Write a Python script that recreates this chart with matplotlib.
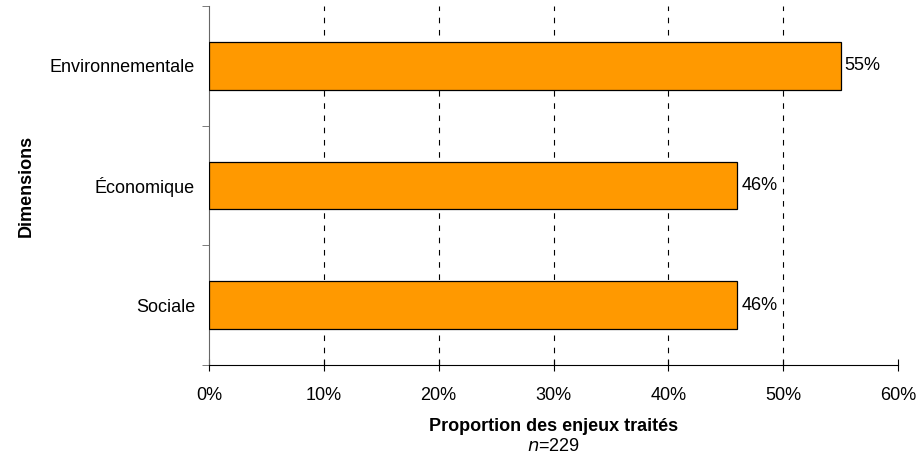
import numpy as np
import matplotlib.pyplot as plt
from matplotlib.ticker import FixedLocator

plt.rcParams['font.family'] = ['Liberation Sans', 'DejaVu Sans']

categories = ['Environnementale', 'Économique', 'Sociale']
values = [55, 46, 46]
xticks = [0, 10, 20, 30, 40, 50, 60]

fig = plt.figure(figsize=(9.19, 4.62), dpi=100)
ax = fig.add_axes([0.2274, 0.2100, 0.7498, 0.7770])

y = np.arange(len(categories))
ax.barh(y, values, height=0.4, color='#ff9900', edgecolor='black', linewidth=0.9, zorder=3)
for yi, v in zip(y, values):
    ax.text(v + 0.35, yi, f'{v}%', va='center', ha='left', fontsize=13, zorder=4)

ax.set_xlim(0, 60)
ax.set_ylim(2.5, -0.5)
ax.set_xticks(xticks)
ax.set_xticklabels([f'{t}%' for t in xticks], fontsize=13)
ax.set_yticks(y)
ax.set_yticklabels(categories, fontsize=13)
ax.tick_params(axis='y', which='major', length=0, pad=10)
ax.yaxis.set_minor_locator(FixedLocator([-0.5, 0.5, 1.5, 2.5]))
ax.tick_params(axis='y', which='minor', length=5, direction='out', color='#666666')
ax.tick_params(axis='x', which='major', length=8, direction='inout', pad=12)

for t in xticks[1:-1]:
    ax.axvline(t, color='black', linestyle=(0, (5, 6)), linewidth=0.8, zorder=1)

ax.spines['top'].set_visible(False)
ax.spines['right'].set_visible(False)
ax.spines['left'].set_color('#666666')

ax.set_xlabel('Proportion des enjeux traités', fontsize=13, fontweight='bold')
ax.xaxis.label.set_va('center')
ax.xaxis.set_label_coords(0.5, (365 - 427) / 359)
ax.text(0.5, (365 - 447) / 359, r'$\it{n}$' + '=229', transform=ax.transAxes,
        ha='center', va='center', fontsize=13)
ax.set_ylabel('Dimensions', fontsize=13, fontweight='bold')
ax.yaxis.label.set_va('center')
ax.yaxis.set_label_coords((26 - 209) / 689, 0.5)

fig.savefig('out.png', dpi=100)
